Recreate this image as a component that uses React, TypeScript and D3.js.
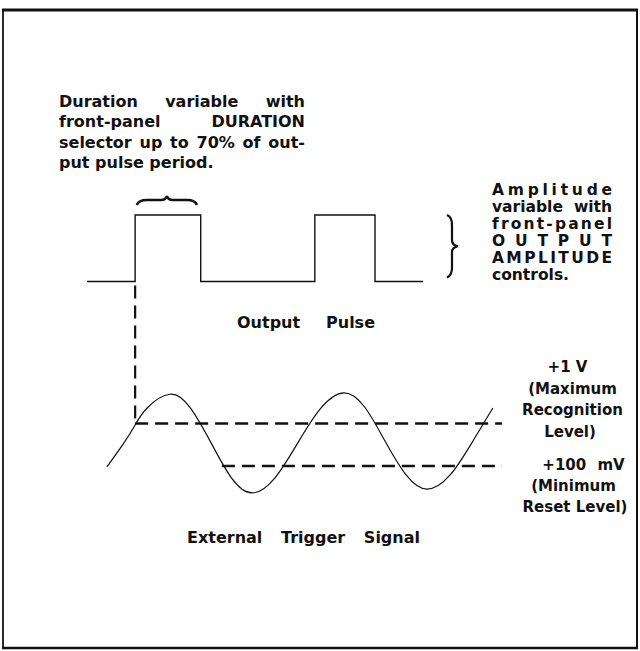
import React, { useEffect, useRef } from 'react'
import * as d3 from 'd3'

const WIDTH = 640
const HEIGHT = 651

// output pulse, time in arbitrary units, level 0 = low / 1 = high (drawn as steps)
const pulseTimes = [0, 11.6, 27.4, 54.9, 69.4, 81.0]
const pulseLevels = [0, 1, 0, 1, 0, 0]

// external trigger signal (time, volts)
const signalTimes = [4.8, 8.9, 11.6, 14.5, 20.0, 24.9, 29.9, 34.8, 39.8, 45.3, 50.8, 56.4, 61.9, 66.9, 71.8, 76.9, 81.9, 87.5, 93.0, 97.8]
const signalVolts = [0.08, 0.59, 0.97, 1.33, 1.62, 1.33, 0.59, -0.15, -0.47, -0.15, 0.59, 1.33, 1.65, 1.35, 0.63, -0.09, -0.39, -0.09, 0.63, 1.33]

// recognition (+1 V) and reset (+100 mV) levels
const thresholdVolts = [1, 0.1]
const thresholdStarts = [11.6, 32.5]
const thresholdEnd = 100

// duration brace over first pulse
const durationSpan = [12, 26.5]

const durationNote = ['Duration variable with', 'front-panel DURATION', 'selector up to 70% of out-', 'put pulse period.']
const amplitudeNote = ['Amplitude', 'variable with', 'front-panel', 'OUTPUT', 'AMPLITUDE', 'controls.']
const maxLevelNote = ['+1 V', '(Maximum', 'Recognition', 'Level)']
const minLevelNote = ['+100 mV', '(Minimum', 'Reset Level)']
const pulseLabel = 'Output Pulse'
const signalLabel = 'External Trigger Signal'

const FONT = '"DejaVu Sans", Verdana, sans-serif'

// put words of a line between x0 and x1 (last line of a paragraph stays left)
function justify(g: any, line: string, x0: number, x1: number, y: number, size: number, last = false) {
  if (last) {
    g.append('text').attr('x', x0).attr('y', y).attr('font-size', size).text(line)
    return
  }
  const words = line.split(' ')
  const nodes = words.map(w => g.append('text').attr('y', y).attr('font-size', size).text(w))
  if (words.length === 1) {
    const w = nodes[0].node().getComputedTextLength()
    // nearly full words get wider glyphs, short ones get letter spacing
    nodes[0].attr('x', x0).attr('textLength', x1 - x0)
      .attr('lengthAdjust', w / (x1 - x0) > 0.86 ? 'spacingAndGlyphs' : 'spacing')
    return
  }
  const widths = nodes.map(n => n.node().getComputedTextLength())
  const gap = (x1 - x0 - d3.sum(widths)) / (words.length - 1)
  let cx = x0
  nodes.forEach((n, i) => {
    n.attr('x', cx)
    cx += widths[i] + gap
  })
}

export default function App() {
  const ref = useRef<SVGSVGElement>(null)

  useEffect(() => {
    const svg = d3.select(ref.current)
    svg.selectAll('*').remove()

    const x = d3.scaleLinear().domain([0, 100]).range([87, 502])
    const yPulse = d3.scaleLinear().domain([0, 1]).range([281.5, 215])
    const ySig = d3.scaleLinear().domain([-0.5, 1.7]).range([494.3, 390.5])

    svg.append('rect')
      .attr('width', WIDTH).attr('height', HEIGHT).attr('fill', '#fff')

    // frame (top edge heavier, as in the print)
    const frame = svg.append('g').attr('stroke', '#111').attr('fill', 'none')
    frame.append('line').attr('x1', 2).attr('x2', 638).attr('y1', 10).attr('y2', 10).attr('stroke-width', 3)
    frame.append('line').attr('x1', 3).attr('x2', 3).attr('y1', 10).attr('y2', 648).attr('stroke-width', 1.8)
    frame.append('line').attr('x1', 637).attr('x2', 637).attr('y1', 10).attr('y2', 648).attr('stroke-width', 2)
    frame.append('line').attr('x1', 2).attr('x2', 638).attr('y1', 648).attr('y2', 648).attr('stroke-width', 2.4)

    // output pulse
    const pulseLine = d3.line<number>()
      .x((d, i) => x(pulseTimes[i]))
      .y(d => yPulse(d))
      .curve(d3.curveStepAfter)
    svg.append('path')
      .datum(pulseLevels)
      .attr('fill', 'none').attr('stroke', '#111').attr('stroke-width', 1.4)
      .attr('d', pulseLine)

    // trigger signal
    const sigLine = d3.line<number>()
      .x((d, i) => x(signalTimes[i]))
      .y(d => ySig(d))
      .curve(d3.curveNatural)
    svg.append('path')
      .datum(signalVolts)
      .attr('fill', 'none').attr('stroke', '#111').attr('stroke-width', 1.2)
      .attr('d', sigLine)

    // dashed threshold levels
    thresholdVolts.forEach((v, i) => {
      svg.append('line')
        .attr('x1', x(thresholdStarts[i])).attr('x2', x(thresholdEnd))
        .attr('y1', ySig(v)).attr('y2', ySig(v))
        .attr('stroke', '#111').attr('stroke-width', 2.4)
        .attr('stroke-dasharray', '13 7')
    })

    // dashed trigger link from pulse edge down to +1 V crossing
    svg.append('line')
      .attr('x1', x(pulseTimes[1])).attr('x2', x(pulseTimes[1]))
      .attr('y1', yPulse(0) + 4).attr('y2', ySig(thresholdVolts[0]))
      .attr('stroke', '#111').attr('stroke-width', 2.2)
      .attr('stroke-dasharray', '13 7')

    // brace over pulse width
    const bx1 = x(durationSpan[0]), bx2 = x(durationSpan[1]), bm = (bx1 + bx2) / 2
    const yb = 205, yt = 196, yp = 200
    svg.append('path')
      .attr('d', `M${bx1},${yb} Q${bx1 + 2},${yp} ${bx1 + 10},${yp} L${bm - 6},${yp} Q${bm - 1},${yp} ${bm},${yt} Q${bm + 1},${yp} ${bm + 6},${yp} L${bx2 - 10},${yp} Q${bx2 - 2},${yp} ${bx2},${yb}`)
      .attr('fill', 'none').attr('stroke', '#111').attr('stroke-width', 2.6)

    // brace next to pulse amplitude
    const xa = 447, xp = 452, xt = 458
    const v1 = yPulse(1), v2 = yPulse(0) - 4, vm = (v1 + v2) / 2
    svg.append('path')
      .attr('d', `M${xa},${v1} Q${xp},${v1 + 2} ${xp},${v1 + 10} L${xp},${vm - 6} Q${xp},${vm - 1} ${xt},${vm} Q${xp},${vm + 1} ${xp},${vm + 6} L${xp},${v2 - 10} Q${xp},${v2 - 2} ${xa},${v2}`)
      .attr('fill', 'none').attr('stroke', '#111').attr('stroke-width', 2.2)

    // texts
    const txt = svg.append('g')
      .attr('font-family', FONT).attr('font-weight', 'bold').attr('fill', '#111')

    durationNote.forEach((line, i) => {
      justify(txt, line, 59, 305, 107 + i * 20.3, 16, i === durationNote.length - 1)
    })
    amplitudeNote.forEach((line, i) => {
      justify(txt, line, 492, 612, 195 + i * 17, 15.5, i === amplitudeNote.length - 1)
    })
    justify(txt, pulseLabel, 237, 375, 328, 16)
    justify(txt, signalLabel, 187, 420, 543, 16)

    const maxCenters = [567.5, 572.5, 572.5, 570]
    maxLevelNote.forEach((line, i) => {
      txt.append('text')
        .attr('x', maxCenters[i]).attr('y', 372 + i * 21.7)
        .attr('font-size', 15).attr('text-anchor', 'middle').text(line)
    })
    const minCenters = [583.5, 573.5, 575]
    minLevelNote.forEach((line, i) => {
      txt.append('text')
        .attr('x', minCenters[i]).attr('y', 470 + i * 21)
        .attr('font-size', 15).attr('text-anchor', 'middle')
        .attr('word-spacing', line.startsWith('+') ? 6 : 0)
        .text(line)
    })
  }, [])

  return (
    <svg
      ref={ref}
      width={WIDTH}
      height={HEIGHT}
      style={{ position: 'absolute', left: 0, top: 0, display: 'block' }}
    />
  )
}
